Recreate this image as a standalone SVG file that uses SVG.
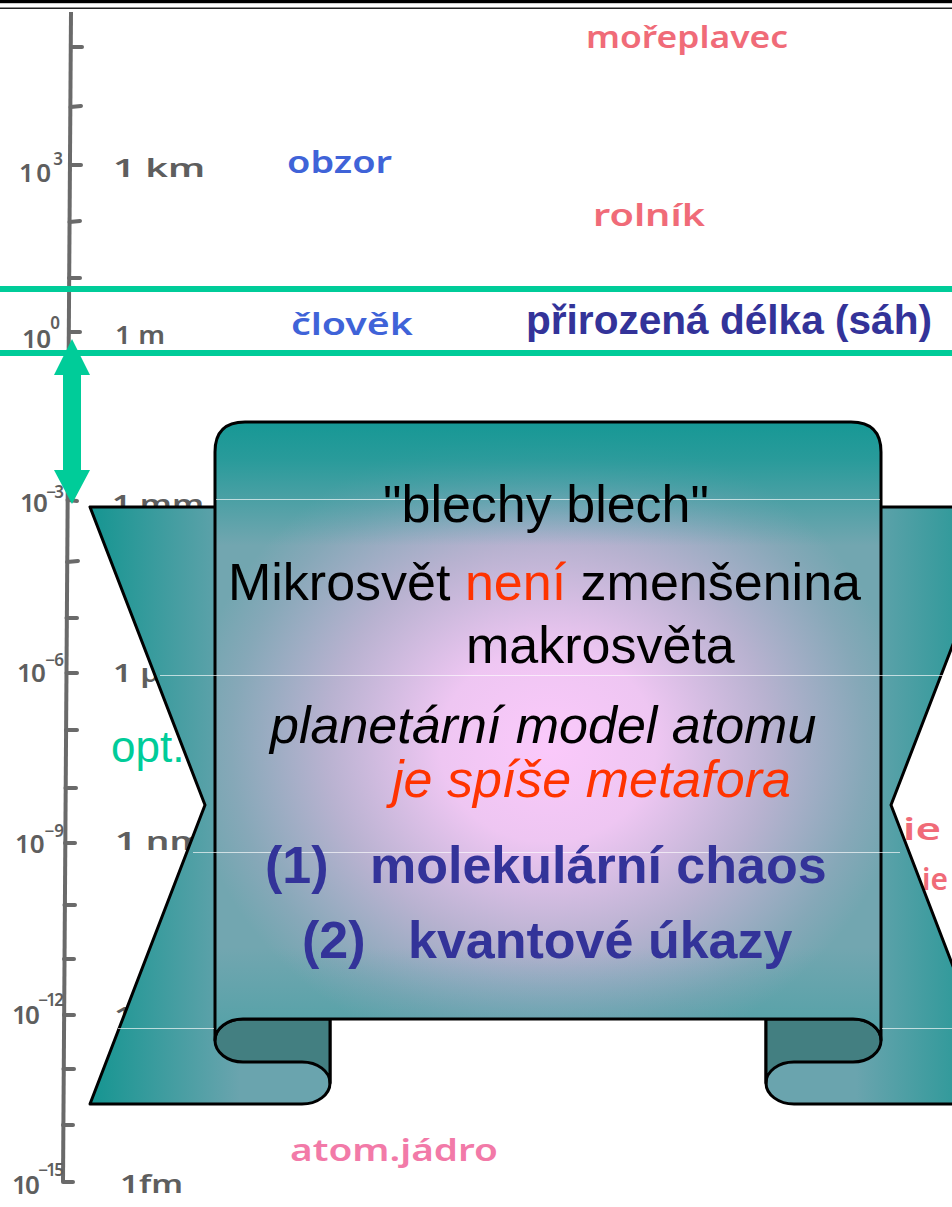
<svg xmlns="http://www.w3.org/2000/svg" width="952" height="1207" viewBox="0 0 952 1207">
<defs>
<style>
.hw{font-family:"Noto Sans","DejaVu Sans",sans-serif;font-weight:600;font-size:30px}
.ax{fill:#5e5e5e}
.ax text{font-family:"Noto Sans","DejaVu Sans",sans-serif;font-weight:600;font-size:26px}
.sup{font-size:17px}
.pk{fill:#f06b78}
.bl{fill:#3f63d8}
.mg{fill:#f27aa8}
.tick{stroke:#6a6a6a;stroke-width:4;stroke-linecap:round}
.gl{stroke:#00cc99;stroke-width:6}
.sh{stroke:#000;stroke-width:3;stroke-linejoin:round}
.art{stroke:#ffffff;stroke-width:1;opacity:0.65}
.t{font-family:"Liberation Sans",Arial,sans-serif;font-size:52px}
.b{font-weight:bold;fill:#333399}
</style>
<linearGradient id="gL" gradientUnits="userSpaceOnUse" x1="90" y1="0" x2="240" y2="0">
<stop offset="0" stop-color="#159591"/>
<stop offset="1" stop-color="#6aa4ae"/>
</linearGradient>
<linearGradient id="gR" gradientUnits="userSpaceOnUse" x1="1006" y1="0" x2="856" y2="0">
<stop offset="0" stop-color="#159591"/>
<stop offset="1" stop-color="#6aa4ae"/>
</linearGradient>
<radialGradient id="gP" gradientUnits="userSpaceOnUse" cx="548" cy="745" r="360" gradientTransform="translate(548 745) scale(1 0.9) translate(-548 -745)">
<stop offset="0" stop-color="#fbc9fb"/>
<stop offset="0.3" stop-color="#eec6f2"/>
<stop offset="0.62" stop-color="#b8b2d0"/>
<stop offset="0.88" stop-color="#86a8b8"/>
<stop offset="1" stop-color="#72a6b0"/>
</radialGradient>
<linearGradient id="gV" gradientUnits="userSpaceOnUse" x1="0" y1="422" x2="0" y2="1040">
<stop offset="0" stop-color="#169895" stop-opacity="1"/>
<stop offset="0.06" stop-color="#169895" stop-opacity="0.8"/>
<stop offset="0.2" stop-color="#169895" stop-opacity="0"/>
<stop offset="0.85" stop-color="#169895" stop-opacity="0"/>
<stop offset="1" stop-color="#169895" stop-opacity="0.35"/>
</linearGradient>
</defs>
<rect width="952" height="1207" fill="#ffffff"/>
<g id="topline">
<rect x="0" y="0" width="952" height="3.2" fill="#000"/>
<line x1="0" y1="8.2" x2="952" y2="8.2" stroke="#222" stroke-width="1.6"/>
</g>
<g id="axis">
<line x1="71" y1="12" x2="63" y2="1182" stroke="#6a6a6a" stroke-width="4"/>
<g class="tick">
<line x1="71" y1="47" x2="82" y2="47"/>
<line x1="70.5" y1="107" x2="81" y2="106"/>
<line x1="70" y1="165" x2="81" y2="165"/>
<line x1="69.5" y1="222" x2="80" y2="221"/>
<line x1="69" y1="278" x2="80" y2="278"/>
<line x1="69" y1="332" x2="80" y2="332"/>
<line x1="67.5" y1="500" x2="77" y2="501"/>
<line x1="67" y1="562" x2="78" y2="561"/>
<line x1="66.5" y1="618" x2="77" y2="618"/>
<line x1="66.5" y1="673" x2="77" y2="673"/>
<line x1="66" y1="730" x2="77" y2="730"/>
<line x1="65.5" y1="788" x2="76" y2="788"/>
<line x1="65" y1="843" x2="75" y2="843"/>
<line x1="64.5" y1="905" x2="75" y2="905"/>
<line x1="64" y1="959" x2="74" y2="959"/>
<line x1="64" y1="1015" x2="74" y2="1015"/>
<line x1="63.5" y1="1069" x2="74" y2="1069"/>
<line x1="63" y1="1125" x2="73" y2="1125"/>
<line x1="63" y1="1182" x2="73" y2="1182"/>
</g>
<g class="ax">
<text x="19" y="182" textLength="44">10<tspan class="sup" dy="-17">3</tspan></text>
<text x="22" y="348" textLength="38">10<tspan class="sup" dy="-19">0</tspan></text>
<text x="20" y="512" textLength="44">10<tspan class="sup" dy="-14">−3</tspan></text>
<text x="17" y="682" textLength="47">10<tspan class="sup" dy="-16">−6</tspan></text>
<text x="15" y="853" textLength="49">10<tspan class="sup" dy="-16">−9</tspan></text>
<text x="12" y="1024" textLength="52">10<tspan class="sup" dy="-18">−12</tspan></text>
<text x="12" y="1194" textLength="52">10<tspan class="sup" dy="-18">−15</tspan></text>
</g>
<g class="ax">
<text class="hw" x="113" y="177" textLength="92" lengthAdjust="spacingAndGlyphs">1 km</text>
<text class="hw" x="115" y="344" textLength="50" lengthAdjust="spacingAndGlyphs">1 m</text>
<text class="hw" x="112" y="513" textLength="92" lengthAdjust="spacingAndGlyphs">1 mm</text>
<text class="hw" x="113" y="682" textLength="80" lengthAdjust="spacingAndGlyphs">1 μm</text>
<text class="hw" x="115" y="850" textLength="90" lengthAdjust="spacingAndGlyphs">1 nm</text>
<text class="hw" x="114" y="1025" textLength="85" lengthAdjust="spacingAndGlyphs">1 pm</text>
<text class="hw" x="120" y="1193" textLength="63" lengthAdjust="spacingAndGlyphs">1fm</text>
</g>
</g>
<g id="objects">
<text class="hw pk" x="586" y="48" textLength="202" lengthAdjust="spacingAndGlyphs">mořeplavec</text>
<text class="hw bl" x="287" y="173" textLength="105" lengthAdjust="spacingAndGlyphs">obzor</text>
<text class="hw pk" x="593" y="226" textLength="112" lengthAdjust="spacingAndGlyphs">rolník</text>
<text class="hw bl" x="291" y="335" textLength="122" lengthAdjust="spacingAndGlyphs">člověk</text>
<text class="hw mg" x="290" y="1161" textLength="208" lengthAdjust="spacingAndGlyphs">atom.jádro</text>
<text class="hw pk" x="903" y="840" textLength="38" lengthAdjust="spacingAndGlyphs">ie</text>
<text class="hw pk" x="922" y="890" font-size="28" textLength="26" lengthAdjust="spacingAndGlyphs">ie</text>
<text x="111" y="762" font-family="Liberation Sans, Arial, sans-serif" font-size="44" fill="#00cc99">opt.</text>
</g>
<g id="band">
<line class="gl" x1="0" y1="289" x2="952" y2="289"/>
<line class="gl" x1="0" y1="353" x2="952" y2="353"/>
<text x="526" y="334" font-family="Liberation Sans, Arial, sans-serif" font-size="40" font-weight="bold" fill="#333399" textLength="406" lengthAdjust="spacingAndGlyphs">přirozená délka (sáh)</text>
</g>
<g id="connectors">
<polygon points="72,339 54,375 63,375 63,470 54,470 72,504 90,470 81,470 81,375 90,375" fill="#00cc99"/>
</g>
<g id="banner">
<path class="sh" fill="url(#gL)" d="M90,507 L330,507 L330,1083 A28,21 0 0 1 302,1104 L90,1104 L205,805 Z"/>
<path class="sh" fill="url(#gR)" d="M1006,507 L766,507 L766,1083 A28,21 0 0 0 794,1104 L1006,1104 L891,805 Z"/>
<path class="sh" fill="#437f81" d="M243,1019 L330,1019 L330,1083 A28,21 0 0 0 302,1062 L243,1062 A28,21.5 0 0 1 243,1019 Z"/>
<path class="sh" fill="#437f81" d="M853,1019 L766,1019 L766,1083 A28,21 0 0 1 794,1062 L853,1062 A28,21.5 0 0 0 853,1019 Z"/>
<path fill="url(#gP)" d="M215,1040 L215,452 Q215,422 245,422 L851,422 Q881,422 881,452 L881,1040 A28,21 0 0 0 853,1019 L243,1019 A28,21 0 0 0 215,1040 Z"/>
<path class="sh" fill="url(#gV)" d="M215,1040 L215,452 Q215,422 245,422 L851,422 Q881,422 881,452 L881,1040 A28,21 0 0 0 853,1019 L243,1019 A28,21 0 0 0 215,1040 Z"/>
<g class="art">
<line x1="216" y1="499.5" x2="880" y2="499.5"/>
<line x1="160" y1="675.5" x2="952" y2="675.5"/>
<line x1="193" y1="852.5" x2="900" y2="852.5"/>
<line x1="118" y1="1028.5" x2="214" y2="1028.5"/>
<line x1="882" y1="1028.5" x2="952" y2="1028.5"/>
</g>
</g>
<g id="panel-text" class="t">
<text x="383" y="522">"blechy blech"</text>
<text x="228" y="600">Mikrosvět <tspan fill="#ff3300">není</tspan> zmenšenina</text>
<text x="466" y="663">makrosvěta</text>
<text x="270" y="743" font-style="italic">planetární model atomu</text>
<text x="392" y="797" font-style="italic" fill="#ff3300">je spíše metafora</text>
<text class="b" x="265" y="883">(1)</text>
<text class="b" x="370" y="883">molekulární chaos</text>
<text class="b" x="302" y="958">(2)</text>
<text class="b" x="408" y="958">kvantové úkazy</text>
</g>
</svg>
